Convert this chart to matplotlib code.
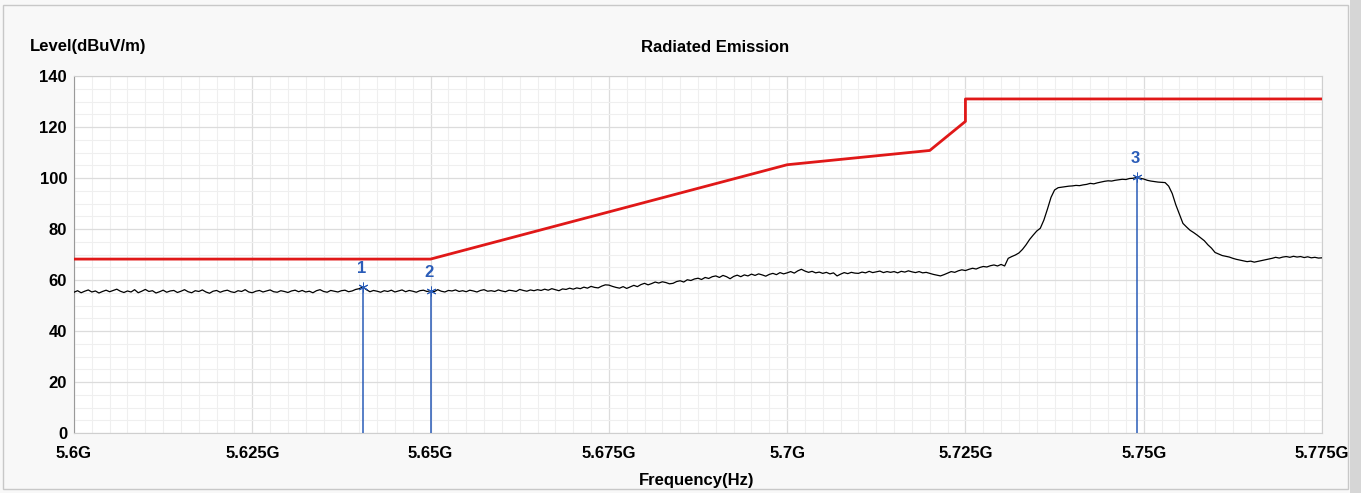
import numpy as np
import matplotlib as mpl
import matplotlib.pyplot as plt
from matplotlib.patches import Rectangle

### style ###
mpl.rc('font', family=['Liberation Sans', 'DejaVu Sans'], size=12, weight='bold')

# sweep: 5.6 GHz .. 5.775 GHz, 0.5 MHz per point
f_start = 5.600
f_stop = 5.775
level = np.array([
    55.2, 55.8, 55.0, 55.6, 56.1, 55.3, 55.7, 54.9, 55.5, 56.0,
    55.4, 55.9, 56.4, 55.6, 55.1, 55.7, 55.3, 56.2, 55.0, 55.6,
    56.3, 55.5, 55.8, 54.9, 55.4, 56.0, 55.2, 55.7, 55.9, 55.1,
    55.6, 56.2, 55.4, 55.0, 55.8, 55.5, 56.1, 55.3, 54.8, 55.6,
    55.9, 55.2, 55.7, 56.0, 55.4, 55.1, 55.8, 55.5, 56.2, 55.3,
    55.0, 55.6, 55.9, 55.3, 55.7, 56.1, 55.4, 55.2, 55.8, 55.5,
    55.1, 55.7, 56.0, 55.4, 55.9, 55.3, 55.6, 55.0, 55.8, 56.2,
    55.5, 55.2, 55.9, 55.6, 55.3, 55.8, 56.0, 55.4, 55.7, 56.3,
    56.6, 57.3, 56.2, 55.4, 55.9, 55.6, 55.2, 55.8, 55.5, 56.0,
    55.3, 55.7, 56.1, 55.4, 55.9, 55.6, 55.2, 55.8, 56.0, 55.5,
    55.8, 55.4, 56.2, 55.6, 55.3, 55.9, 55.7, 56.1, 55.5, 55.8,
    55.4, 56.0, 55.7, 55.3, 55.9, 56.2, 55.6, 55.8, 55.5, 56.1,
    55.7, 55.4, 56.0, 55.8, 55.5, 56.3, 55.9, 55.6, 56.1, 55.8,
    56.2, 55.9, 56.4, 56.0, 56.6, 56.2, 55.8, 56.5, 56.3, 56.8,
    56.4, 56.9, 56.6, 57.2, 56.8, 57.5, 57.1, 56.9, 57.6, 58.1,
    58.0, 57.5, 57.1, 56.8, 57.4, 56.7, 57.3, 57.9, 57.4, 58.2,
    58.7, 58.1, 58.6, 59.2, 58.8, 59.3, 59.0, 58.5, 58.7, 59.4,
    59.7, 59.2, 60.1, 59.8, 60.4, 60.7, 60.2, 61.0, 60.6, 61.3,
    61.6, 61.0, 61.8, 61.3, 60.5, 61.4, 61.9, 61.3, 62.0, 61.6,
    62.3, 61.8, 62.4, 62.0, 61.5, 62.2, 62.6, 62.1, 62.9, 62.4,
    62.8, 63.3, 62.7, 63.6, 64.2, 63.5, 63.0, 63.4, 62.8, 63.1,
    62.6, 63.0, 62.4, 62.8, 61.6, 62.3, 62.9, 62.5, 63.0, 62.7,
    62.6, 63.1, 62.8, 63.4, 62.9, 63.2, 63.5, 62.9, 63.3, 63.0,
    63.3, 62.8, 63.4, 63.1, 63.6, 63.2, 62.9, 63.3, 62.8, 63.0,
    62.6, 62.2, 61.9, 61.6, 62.1, 62.7, 63.3, 63.0, 63.6, 64.0,
    63.7, 64.2, 64.6, 64.3, 64.9, 65.3, 65.1, 65.6, 65.9, 65.5,
    66.1, 65.5, 68.5, 69.2, 69.8, 70.6, 72.0, 73.8, 75.9, 77.6,
    79.2, 80.3, 83.5, 87.8, 92.4, 95.3, 96.2, 96.4, 96.6, 96.8,
    96.9, 97.1, 97.0, 97.3, 97.5, 97.9, 97.7, 98.1, 98.4, 98.7,
    98.9, 98.8, 99.1, 99.3, 99.5, 99.4, 99.8, 99.9, 100.2, 99.9,
    99.6, 99.1, 98.8, 98.6, 98.4, 98.3, 98.2, 96.8, 93.9, 89.5,
    85.8, 82.2, 80.8, 79.5, 78.6, 77.6, 76.5, 75.4, 73.8, 72.5,
    70.8, 70.2, 69.6, 69.3, 69.0, 68.5, 68.1, 67.8, 67.5, 67.2,
    67.4, 67.0, 67.3, 67.6, 67.9, 68.2, 68.5, 68.9, 68.6, 69.0,
    69.2, 68.9, 69.3, 69.0, 69.2, 68.8, 69.1, 68.7, 68.9, 68.6,
    68.7])  # [dBuV/m]
freq = np.linspace(f_start, f_stop, len(level))  # [GHz]

# limit line
limit_freq = [5.600, 5.650, 5.700, 5.720, 5.725, 5.725, 5.775]
limit_level = [68.2, 68.2, 105.2, 110.8, 122.2, 131.0, 131.0]

# markers
marker_id = ['1', '2', '3']
marker_freq = [5.6405, 5.650, 5.749]
marker_level = [57.3, 55.8, 100.2]

xticks = [5.6, 5.625, 5.65, 5.675, 5.7, 5.725, 5.75, 5.775]
xticklabels = ['5.6G', '5.625G', '5.65G', '5.675G', '5.7G', '5.725G', '5.75G', '5.775G']
yticks = [0, 20, 40, 60, 80, 100, 120, 140]

blue = '#2a5cb8'

W, H = 1361, 493
fig = plt.figure(figsize=(W / 100, H / 100), dpi=100, facecolor='#f8f8f8')
# outer frame + shadow on the right
fig.patches.append(Rectangle((3 / W, 4 / H), 1345 / W, 484 / H, transform=fig.transFigure,
                             fill=False, edgecolor='#c8c8c8', lw=1))
fig.patches.append(Rectangle((1350 / W, 0), 11 / W, 1, transform=fig.transFigure,
                             facecolor='#d6d6d6', edgecolor='none'))

ax = fig.add_axes([74 / W, (H - 433) / H, 1248 / W, 357 / H])
ax.set_facecolor('white')

ax.plot(freq, level, color='black', lw=0.9, zorder=3)
ax.plot(limit_freq, limit_level, color='#e01818', lw=2.0, zorder=4)

for mid, mf, ml in zip(marker_id, marker_freq, marker_level):
    ax.vlines(mf, 0, ml, color=blue, lw=1.1, zorder=5)
    ax.plot(mf, ml, marker=(6, 2, 0), ms=7, color=blue, mew=0.7, zorder=6)
    ax.annotate(mid, (mf, ml), xytext=(-1, 8), textcoords='offset points',
                ha='center', va='bottom', color=blue, fontsize=12, fontweight='bold')

ax.set_xlim(f_start, f_stop)
ax.set_ylim(0, 140)
ax.set_xticks(xticks)
ax.set_xticklabels(xticklabels)
ax.set_yticks(yticks)
ax.set_xticks(np.arange(5.6, 5.7751, 0.0025), minor=True)
ax.set_yticks(np.arange(0, 141, 5), minor=True)
ax.grid(which='minor', color='#efefef', lw=0.8)
ax.grid(which='major', color='#dcdcdc', lw=0.9)
ax.set_axisbelow(True)
ax.tick_params(which='both', length=0)
ax.tick_params(axis='y', pad=5)
ax.tick_params(axis='x', pad=9)
for side in ['top', 'right', 'bottom']:
    ax.spines[side].set_color('#cfcfcf')
ax.spines['left'].set_color('#9a9a9a')

fig.text(30 / W, 1 - 47 / H, 'Level(dBuV/m)', ha='left', va='center', fontsize=12, fontweight='bold')
fig.text(715 / W, 1 - 47 / H, 'Radiated Emission', ha='center', va='center', fontsize=12, fontweight='bold')
fig.text(697 / W, 1 - 480 / H, 'Frequency(Hz)', ha='center', va='center', fontsize=12, fontweight='bold')

fig.savefig('out.png', dpi=100, facecolor=fig.get_facecolor())
